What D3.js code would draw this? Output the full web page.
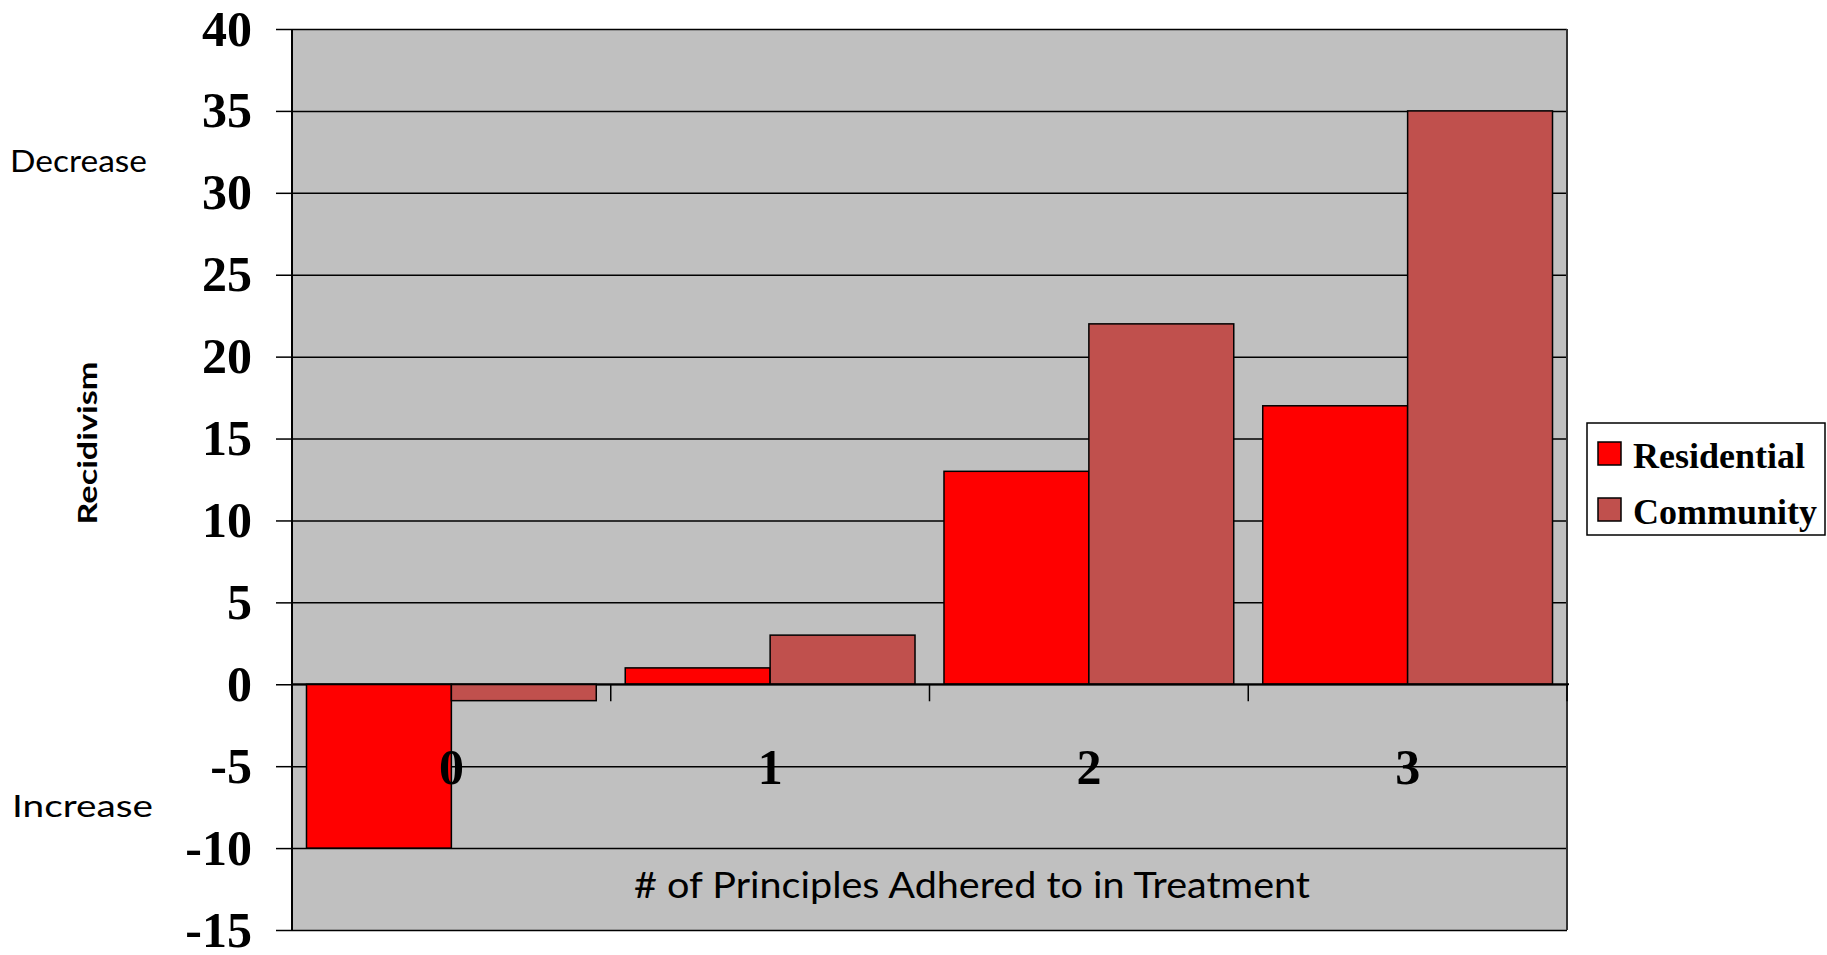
<!DOCTYPE html>
<html><head><meta charset="utf-8">
<script src="https://cdn.jsdelivr.net/npm/d3@7"></script>
<style>html,body{margin:0;padding:0;background:#fff;}svg{display:block;}</style>
</head><body>
<svg id="chart" width="1827" height="955"></svg>
<script>
const categories = ["0", "1", "2", "3"];
const seriesNames = ["Residential", "Community"];
const residential = [-10, 1, 13, 17];
const community = [-1, 3, 22, 35];
const yTicks = [-15, -10, -5, 0, 5, 10, 15, 20, 25, 30, 35, 40];
const seriesColors = ["#FF0000", "#C0504D"];

const svg = d3.select("#chart");
const L = 292, R = 1567, T = 29, B = 930;
const y = d3.scaleLinear().domain([-15, 40]).range([B, T]);
const x0 = d3.scaleBand().domain(categories).range([L, R]).padding(0);
const x1 = d3.scaleBand().domain(seriesNames).range([0, x0.bandwidth()]).paddingInner(0).paddingOuter(0.1);
const color = d3.scaleOrdinal().domain(seriesNames).range(seriesColors);

const serif = "'Liberation Serif','Times New Roman',serif";
const sans = "Lato,'Open Sans',sans-serif";

// plot background
svg.append("rect").attr("x", L).attr("y", T).attr("width", R - L).attr("height", B - T).attr("fill", "#C0C0C0");

// gridlines + y axis
const yAxis = d3.axisLeft(y).tickValues(yTicks).tickSize(16).tickPadding(24).tickFormat(d => String(d));
const gy = svg.append("g").attr("transform", `translate(${L},0)`).call(yAxis);
gy.select(".domain").remove();
gy.selectAll(".tick line").attr("stroke", "#000").attr("stroke-width", 1.5);
gy.selectAll(".tick text").attr("font-family", serif).attr("font-weight", "bold").attr("font-size", 50).attr("fill", "#000");
const grid = d3.axisLeft(y).tickValues(yTicks).tickSize(-(R - L)).tickFormat("");
const gg = svg.append("g").attr("transform", `translate(${L},0)`).call(grid);
gg.select(".domain").remove();
gg.selectAll(".tick line").attr("stroke", "#000").attr("stroke-width", 1.5);

// bars
const rows = categories.map((c, i) => ({ cat: c, vals: [residential[i], community[i]] }));
const groups = svg.append("g").selectAll("g").data(rows).join("g")
  .attr("transform", d => `translate(${x0(d.cat)},0)`);
groups.selectAll("rect").data(d => d.vals.map((v, j) => ({ s: seriesNames[j], v })))
  .join("rect")
  .attr("x", d => x1(d.s))
  .attr("width", x1.bandwidth())
  .attr("y", d => y(Math.max(0, d.v)))
  .attr("height", d => Math.abs(y(d.v) - y(0)))
  .attr("fill", d => color(d.s))
  .attr("stroke", "#000").attr("stroke-width", 1.5);

// plot borders
svg.append("line").attr("x1", L).attr("x2", L).attr("y1", T).attr("y2", B).attr("stroke", "#000").attr("stroke-width", 2);
svg.append("line").attr("x1", R).attr("x2", R).attr("y1", T).attr("y2", B).attr("stroke", "#333").attr("stroke-width", 2);

// zero axis with category boundary ticks and labels
svg.append("line").attr("x1", L).attr("x2", R + 2).attr("y1", y(0)).attr("y2", y(0)).attr("stroke", "#000").attr("stroke-width", 2);
const bounds = categories.map(c => x0(c)).concat([R]);
svg.append("g").selectAll("line").data(bounds).join("line")
  .attr("x1", d => d).attr("x2", d => d)
  .attr("y1", y(0)).attr("y2", y(0) + 17)
  .attr("stroke", "#000").attr("stroke-width", 1.5);
const xAxis = d3.axisBottom(x0).tickSize(0).tickPadding(0);
const gx = svg.append("g").attr("transform", `translate(0,${y(0)})`).call(xAxis);
gx.select(".domain").remove();
gx.selectAll(".tick text").attr("y", y(-5) - y(0)).attr("dy", "0.35em")
  .attr("font-family", serif).attr("font-weight", "bold").attr("font-size", 50).attr("fill", "#000");

// side labels
svg.append("text").attr("x", 10).attr("y", 172).attr("font-family", sans).attr("font-size", 30)
  .attr("textLength", 137).attr("lengthAdjust", "spacingAndGlyphs").text("Decrease");
svg.append("text").attr("x", 12).attr("y", 817).attr("font-family", sans).attr("font-size", 30)
  .attr("textLength", 141).attr("lengthAdjust", "spacingAndGlyphs").text("Increase");
svg.append("text").attr("transform", "translate(97,443) rotate(-90)").attr("text-anchor", "middle")
  .attr("font-family", sans).attr("font-weight", "bold").attr("font-size", 27)
  .attr("textLength", 163).attr("lengthAdjust", "spacingAndGlyphs").text("Recidivism");
svg.append("text").attr("x", 972).attr("y", 898).attr("text-anchor", "middle")
  .attr("font-family", sans).attr("font-size", 36)
  .attr("textLength", 676).attr("lengthAdjust", "spacingAndGlyphs").text("# of Principles Adhered to in Treatment");

// legend
const lg = svg.append("g");
lg.append("rect").attr("x", 1587).attr("y", 423).attr("width", 238).attr("height", 112)
  .attr("fill", "#fff").attr("stroke", "#000").attr("stroke-width", 1.5);
const items = lg.selectAll("g").data(seriesNames).join("g")
  .attr("transform", (d, i) => `translate(1598,${442 + i * 56})`);
items.append("rect").attr("width", 23).attr("height", 23).attr("fill", d => color(d)).attr("stroke", "#000").attr("stroke-width", 1.5);
items.append("text").attr("x", 35).attr("y", 26).attr("font-family", serif).attr("font-weight", "bold")
  .attr("font-size", 36).text(d => d);
</script>
</body></html>
